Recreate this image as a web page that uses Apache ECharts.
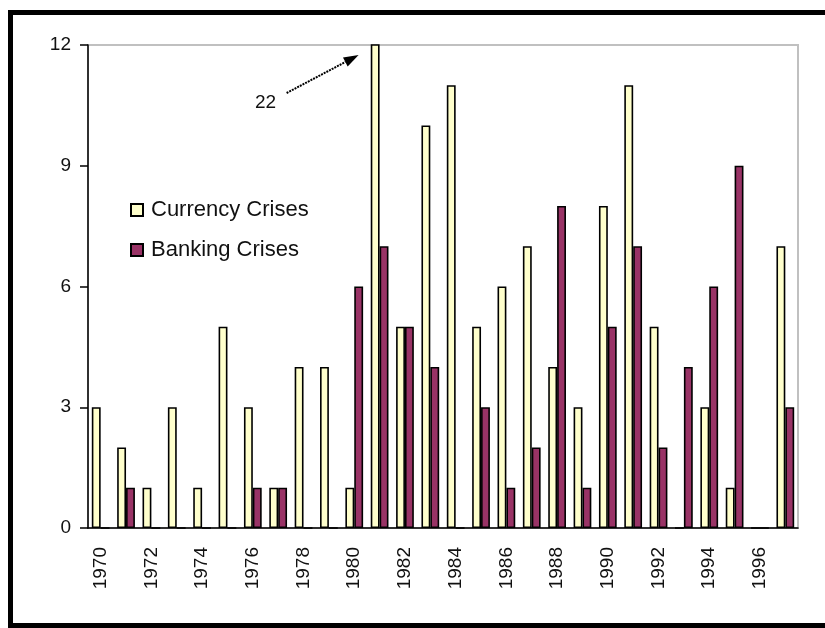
<!DOCTYPE html>
<html style="height: 100%">

<head>
    <meta charset="utf-8">
</head>

<body style="height: 100%; margin: 0; background: #fff">
    <div id="container" style="width: 825px; height: 628px"></div>
    <script type="text/javascript" src="https://cdn.jsdelivr.net/npm/echarts@6/dist/echarts.min.js"></script>
    <script type="text/javascript">
        // years on the x axis
        var years = ['1970', '1971', '1972', '1973', '1974', '1975', '1976', '1977', '1978', '1979',
            '1980', '1981', '1982', '1983', '1984', '1985', '1986', '1987', '1988', '1989',
            '1990', '1991', '1992', '1993', '1994', '1995', '1996', '1997'];
        // number of crises per year
        var currencyCrises = [3, 2, 1, 3, 1, 5, 3, 1, 4, 4, 1, 22, 5, 10, 11, 5, 6, 7, 4, 3, 8, 11, 5, 0, 3, 1, 0, 7];
        var bankingCrises = [0, 1, 0, 0, 0, 0, 1, 1, 0, 0, 6, 7, 5, 4, 0, 3, 1, 2, 8, 1, 5, 7, 2, 4, 6, 9, 0, 3];
        // the off-scale bar gets a note
        var noteYear = '1981';
        var noteText = '22';

        var font = 'Liberation Sans, Arial, sans-serif';

        var dom = document.getElementById("container");
        var myChart = echarts.init(dom, null, { renderer: 'canvas' });
        var option = {
            animation: false,
            backgroundColor: '#fff',
            grid: {
                left: 88,
                top: 45,
                right: 27,
                bottom: 100,
                show: true,
                borderColor: '#c0c0c0',
                borderWidth: 2
            },
            legend: {
                orient: 'vertical',
                left: 130,
                top: 199,
                padding: 0,
                itemWidth: 12,
                itemHeight: 12,
                itemGap: 18,
                icon: 'rect',
                data: ['Currency Crises', 'Banking Crises'],
                textStyle: {
                    fontFamily: font,
                    fontSize: 22,
                    color: '#111',
                    padding: [0, 0, 0, 3]
                }
            },
            xAxis: {
                type: 'category',
                data: years,
                axisLine: { lineStyle: { color: '#000', width: 1.5 } },
                axisTick: { show: false },
                axisLabel: {
                    rotate: 90,
                    interval: 1,
                    margin: 19,
                    fontFamily: font,
                    fontSize: 19,
                    color: '#111'
                }
            },
            yAxis: {
                type: 'value',
                min: 0,
                max: 12,
                interval: 3,
                splitLine: { show: false },
                axisLine: { show: true, lineStyle: { color: '#000', width: 1.5 } },
                axisTick: { show: true, length: 8, lineStyle: { color: '#000', width: 1.5 } },
                axisLabel: {
                    margin: 17,
                    fontFamily: font,
                    fontSize: 19,
                    color: '#111'
                }
            },
            series: [
                {
                    name: 'Currency Crises',
                    type: 'bar',
                    barGap: '0%',
                    barCategoryGap: '30%',
                    data: currencyCrises,
                    itemStyle: { color: '#ffffcc', borderColor: '#000', borderWidth: 1.6 }
                },
                {
                    name: 'Banking Crises',
                    type: 'bar',
                    data: bankingCrises,
                    itemStyle: { color: '#993366', borderColor: '#000', borderWidth: 1.6 }
                }
            ]
        };

        myChart.setOption(option, true);

        // arrow and label pointing at the clipped bar, placed from the axis scale
        var anchor = myChart.convertToPixel({ gridIndex: 0 }, [noteYear, 12]);
        var tip = [anchor[0] - 21, anchor[1] + 10];
        var start = [anchor[0] - 93, anchor[1] + 48];
        var dx = tip[0] - start[0], dy = tip[1] - start[1];
        var len = Math.sqrt(dx * dx + dy * dy);
        var ux = dx / len, uy = dy / len;
        var base = [tip[0] - 15 * ux, tip[1] - 15 * uy];
        var px = -uy * 5, py = ux * 5;

        myChart.setOption({
            graphic: [
                {
                    type: 'rect',
                    shape: { x: 10.5, y: 12.5, width: 830, height: 613 },
                    style: { fill: 'none', stroke: '#000', lineWidth: 5 },
                    silent: true
                },
                {
                    type: 'line',
                    shape: { x1: start[0], y1: start[1], x2: base[0], y2: base[1] },
                    style: { stroke: '#000', lineWidth: 2, lineDash: [2, 1] },
                    silent: true
                },
                {
                    type: 'polygon',
                    shape: { points: [tip, [base[0] + px, base[1] + py], [base[0] - px, base[1] - py]] },
                    style: { fill: '#000' },
                    silent: true
                },
                {
                    type: 'text',
                    x: anchor[0] - 114,
                    y: anchor[1] + 58,
                    style: {
                        text: noteText,
                        fontFamily: font,
                        fontSize: 19,
                        fill: '#111',
                        align: 'center',
                        verticalAlign: 'middle'
                    },
                    silent: true
                }
            ]
        });
    </script>
</body>

</html>
